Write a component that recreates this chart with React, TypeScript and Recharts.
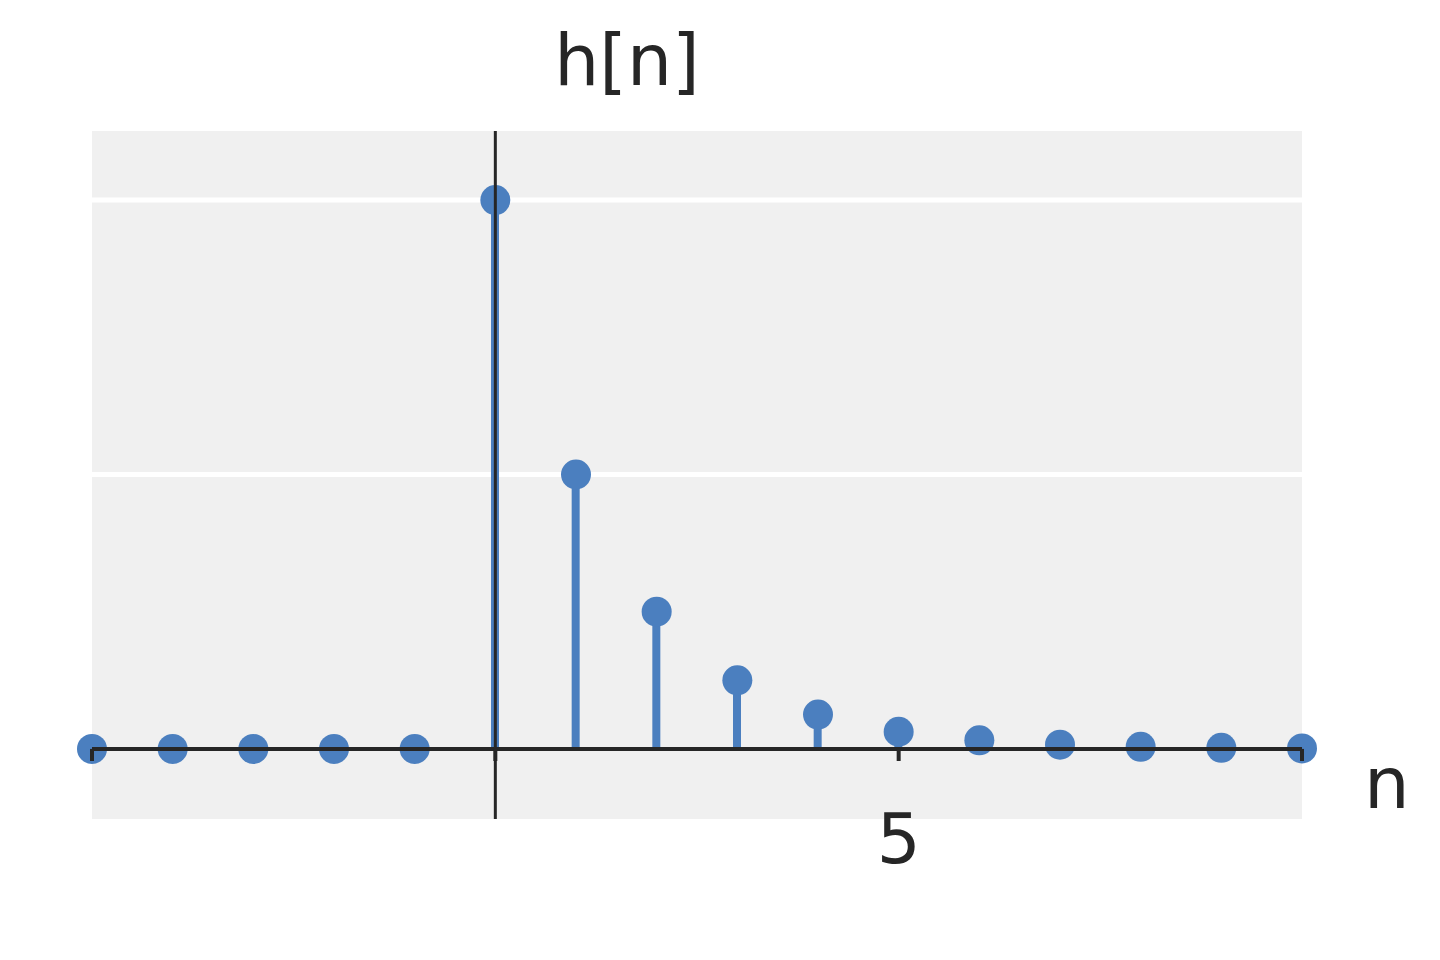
import { ComposedChart, Bar, Line, XAxis, YAxis, CartesianGrid, ReferenceLine } from 'recharts'

const nValues = [-5, -4, -3, -2, -1, 0, 1, 2, 3, 4, 5, 6, 7, 8, 9, 10]
const hValues = [0, 0, 0, 0, 0, 1, 0.5, 0.25, 0.125, 0.0625, 0.03125, 0.015625, 0.0078125, 0.00390625, 0.001953125, 0.0009765625]
const tickMarks = [-5, 0, 5, 10]
const tickLabels = [5]
const gridValues = [0.5, 1]

const data = nValues.map((n, i) => ({ n, h: hValues[i] }))

const BLUE = '#4b7fbf'
const INK = '#262626'
const FONT = '"DejaVu Sans", sans-serif'

const XTick = ({ x, y, payload }: { x?: number; y?: number; payload?: { value: number } }) => (
  <text x={x} y={(y ?? 0) + 42} textAnchor="middle" fontFamily={FONT} fontSize={69} fill={INK}>
    {payload?.value}
  </text>
)

export default function App() {
  return (
    <div style={{ position: 'absolute', left: 0, top: 0, width: 1440, height: 960, background: '#fff' }}>
      <ComposedChart
        width={1440}
        height={960}
        data={data}
        margin={{ top: 131, right: 138, left: 92, bottom: 81 }}
      >
        <CartesianGrid
          fill="#f0f0f0"
          vertical={false}
          horizontalValues={gridValues}
          stroke="#ffffff"
          strokeWidth={5}
        />
        <XAxis
          dataKey="n"
          type="number"
          domain={[-5, 10]}
          ticks={tickLabels}
          axisLine={false}
          tickLine={false}
          tickSize={0}
          height={60}
          tick={<XTick />}
        />
        <YAxis hide type="number" domain={[-0.1277, 1.1259]} />
        <Bar dataKey="h" fill={BLUE} barSize={8} isAnimationActive={false} />
        <Line
          dataKey="h"
          stroke="none"
          dot={{ r: 15, fill: BLUE, stroke: 'none' }}
          activeDot={false}
          isAnimationActive={false}
        />
        <ReferenceLine y={0} stroke={INK} strokeWidth={4} zIndex={900} />
        <ReferenceLine x={0} stroke={INK} strokeWidth={3} zIndex={900} />
        {tickMarks.map((t) => (
          <ReferenceLine
            key={t}
            segment={[{ x: t, y: 0 }, { x: t, y: -0.022 }]}
            stroke={INK}
            strokeWidth={4}
            zIndex={900}
          />
        ))}
      </ComposedChart>
      <svg width={1440} height={960} style={{ position: 'absolute', left: 0, top: 0, pointerEvents: 'none' }}>
        <text x={627} y={85} textAnchor="middle" fontFamily={FONT} fontSize={71} fill={INK}>h[n]</text>
        <text x={1364} y={808} fontFamily={FONT} fontSize={72} fill={INK}>n</text>
      </svg>
    </div>
  )
}
